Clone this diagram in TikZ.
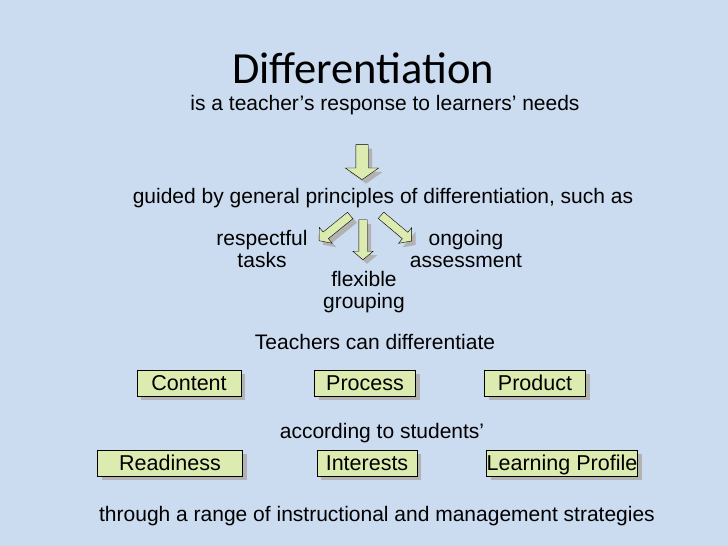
\documentclass[tikz,border=0pt]{standalone}
\usepackage{fontspec}
\setmainfont{Liberation Sans}
\newfontfamily\titlefont{Carlito}
\usetikzlibrary{shapes.arrows,shadows}
\definecolor{slidebg}{HTML}{CCDCF0}
\definecolor{boxgreen}{HTML}{DCEBB0}
\tikzset{
  txt/.style={font=\fontsize{21}{22}\selectfont, align=center, inner sep=0pt},
  shade/.style={drop shadow={shadow xshift=4pt, shadow yshift=-4pt, fill=black!30, opacity=1}},
  box/.style={draw=black, fill=boxgreen, shade, font=\fontsize{21.5}{22}\selectfont, minimum height=26pt, inner sep=0pt, text height=17pt, text depth=3pt},
  bigarrow/.style={single arrow, draw=black, fill=boxgreen, shade, inner xsep=0pt, inner ysep=6pt, single arrow head extend=10.5pt, single arrow tip angle=110, minimum height=35pt},
  smallarrow/.style={single arrow, draw=black, fill=boxgreen, shade, inner xsep=0pt, inner ysep=4pt, single arrow head extend=6pt, single arrow tip angle=100, minimum height=40pt}
}
\begin{document}
\begin{tikzpicture}[x=1pt,y=-1pt]
\fill[slidebg] (0,0) rectangle (728,546);
\useasboundingbox (0,0) rectangle (728,546);
\node[font=\titlefont\fontsize{44.5}{48}\selectfont, inner sep=0pt] (title) at (363,68) {Differentiation};
\node[txt] (sub) at (385,105) {is a teacher’s response to learners’ needs};
\node[bigarrow, rotate=-90] (down) at (362,160) {};
\node[txt] (guided) at (383,198) {guided by general principles of differentiation, such as};
\node[smallarrow, rotate=219] (left) at (336,227) {};
\node[smallarrow, rotate=-90] (mid) at (363,238) {};
\node[smallarrow, rotate=-40] (right) at (395,227) {};
\node[txt] (tasks) at (262,249) {respectful\\tasks};
\node[txt] (group) at (364,292) {flexible\\grouping};
\node[txt] (assess) at (466,249) {ongoing\\assessment};
\node[txt] (teach) at (375,342) {Teachers can differentiate};
\node[box, minimum width=104pt] (content) at (189,383) {Content};
\node[box, minimum width=101pt] (process) at (365,383) {Process};
\node[box, minimum width=101pt] (product) at (535,383) {Product};
\node[txt] (accord) at (382,433) {according to students’};
\node[box, minimum width=145pt] (ready) at (170,463) {Readiness};
\node[box, minimum width=100pt] (interest) at (367,463) {Interests};
\node[box, minimum width=151pt] (profile) at (562,463) {Learning Profile};
\node[txt] (through) at (377,516) {through a range of instructional and management strategies};
\end{tikzpicture}
\end{document}
